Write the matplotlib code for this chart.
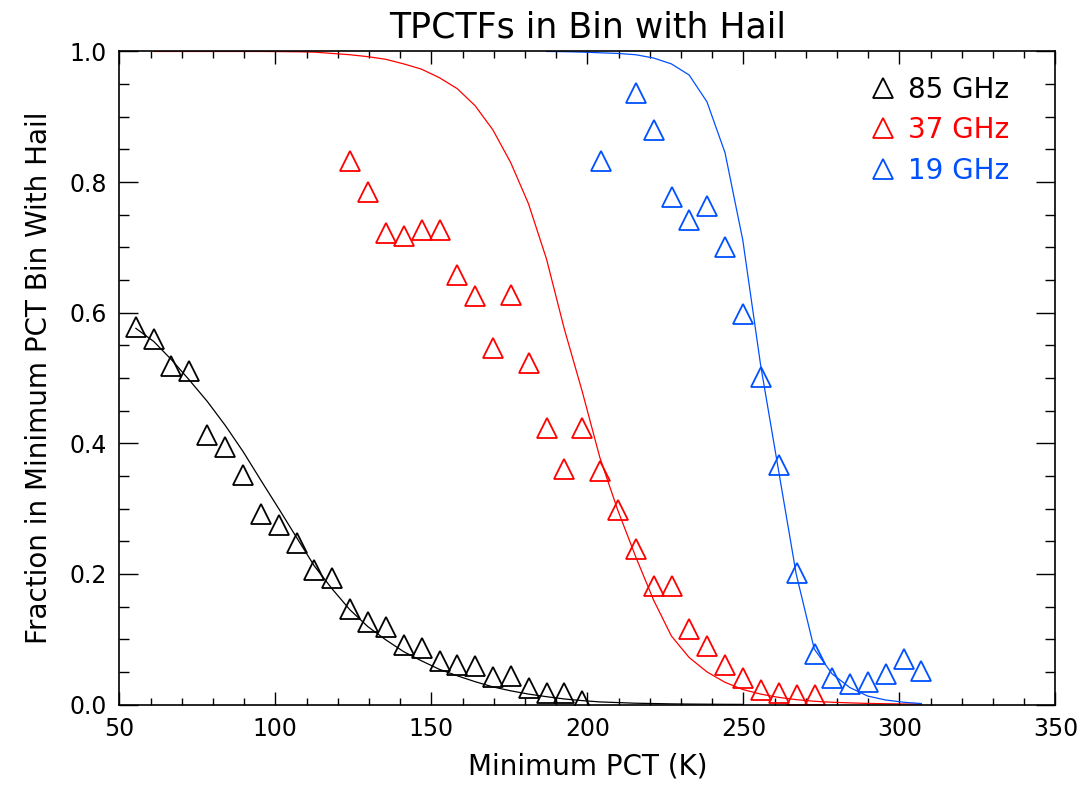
import matplotlib
matplotlib.use("Agg")
import matplotlib.pyplot as plt
from matplotlib.ticker import MultipleLocator

plt.rcParams['font.family'] = ['DejaVu Sans']

# bin centres (minimum PCT, K)
pct_bins = [55.3, 61.0, 66.7, 72.4, 78.2, 84.0, 89.7, 95.4, 101.2, 106.9,
            112.5, 118.2, 123.9, 129.7, 135.4, 141.1, 146.8, 152.5, 158.3, 164.0,
            169.7, 175.4, 181.1, 186.9, 192.6, 198.3, 204.0, 209.7, 215.5, 221.2,
            226.9, 232.6, 238.3, 244.1, 249.8, 255.5, 261.2, 266.9, 272.7, 278.4,
            284.1, 289.8, 295.5, 301.3, 307.0]

# observed fractions
x85 = [55.3, 61.0, 66.7, 72.4, 78.2, 84.0, 89.7, 95.4, 101.2, 106.9, 112.5, 118.3, 124.0,
       129.8, 135.5, 141.3, 147.0, 152.7, 158.3, 164.1, 169.9, 175.5, 181.2, 187.0, 192.6, 198.4]
y85 = [0.578, 0.560, 0.518, 0.511, 0.412, 0.394, 0.351, 0.291, 0.275, 0.247, 0.206, 0.194, 0.147,
       0.126, 0.119, 0.091, 0.086, 0.066, 0.060, 0.059, 0.042, 0.043, 0.025, 0.018, 0.017, 0.005]

x37 = [124.0, 129.8, 135.5, 141.2, 146.9, 152.7, 158.3, 164.1, 169.8, 175.5, 181.2, 187.0, 192.6,
       198.3, 204.1, 209.8, 215.5, 221.3, 227.0, 232.7, 238.4, 244.1, 249.9, 255.6, 261.3, 267.1, 272.8]
y37 = [0.833, 0.785, 0.722, 0.718, 0.727, 0.727, 0.657, 0.625, 0.546, 0.627, 0.523, 0.424, 0.360,
       0.424, 0.358, 0.298, 0.238, 0.181, 0.181, 0.116, 0.089, 0.060, 0.040, 0.022, 0.017, 0.014, 0.014]

x19 = [204.2, 215.6, 221.3, 227.0, 232.7, 238.4, 244.1, 249.9, 255.7, 261.3, 267.1, 272.9,
       278.5, 284.2, 290.0, 295.6, 301.4, 307.0]
y19 = [0.833, 0.937, 0.879, 0.777, 0.742, 0.764, 0.701, 0.598, 0.502, 0.367, 0.201, 0.078,
       0.041, 0.032, 0.035, 0.046, 0.069, 0.051]

# fitted curves, sampled at the bin centres
fit85 = [0.576, 0.556, 0.528, 0.497, 0.464, 0.427, 0.387, 0.343, 0.299, 0.255,
         0.212, 0.177, 0.145, 0.119, 0.099, 0.081, 0.067, 0.054, 0.044, 0.035,
         0.027, 0.021, 0.016, 0.012, 0.0085, 0.006, 0.004, 0.003, 0.002, 0.0015,
         0.001, 0.0007, 0.0005, 0.0003, 0.0002]
fit37 = [1.0, 1.0, 1.0, 1.0, 1.0, 1.0, 1.0, 0.9998, 0.9995,
         0.999, 0.997, 0.995, 0.992, 0.988, 0.981, 0.973, 0.960, 0.943, 0.917,
         0.880, 0.830, 0.767, 0.682, 0.575, 0.480, 0.378, 0.298, 0.226, 0.160,
         0.105, 0.072, 0.050, 0.034, 0.023, 0.016, 0.011, 0.0075, 0.005, 0.0035,
         0.0025, 0.0017, 0.0012, 0.0008, 0.0006]
fit19 = [1.0, 0.9997, 0.999, 0.998, 0.997, 0.995, 0.990, 0.981, 0.964, 0.923,
         0.845, 0.711, 0.52, 0.36, 0.20, 0.085, 0.047, 0.026, 0.013, 0.007,
         0.0035, 0.0015]

blue = '#0050ff'

fig = plt.figure(figsize=(10.88, 7.87), dpi=100)
ax = fig.add_axes([0.1097, 0.1048, 0.8604, 0.8298])

ax.plot(pct_bins[:len(fit85)], fit85, color='black', lw=0.9)
ax.plot(pct_bins[1:1 + len(fit37)], fit37, color='red', lw=0.9)
ax.plot(pct_bins[23:23 + len(fit19)], fit19, color=blue, lw=0.9)

mk = dict(marker='^', ls='none', ms=15, mew=1.3, mfc='none')
ax.plot(x85, y85, color='black', label='85 GHz', **mk)
ax.plot(x37, y37, color='red', label='37 GHz', **mk)
ax.plot(x19, y19, color=blue, label='19 GHz', **mk)

ax.set_xlim(50, 350)
ax.set_ylim(0, 1)
ax.xaxis.set_major_locator(MultipleLocator(50))
ax.xaxis.set_minor_locator(MultipleLocator(10))
ax.yaxis.set_major_locator(MultipleLocator(0.2))
ax.yaxis.set_minor_locator(MultipleLocator(0.05))
ax.yaxis.set_major_formatter(plt.FuncFormatter(lambda v, p: f'{v:.1f}'))

ax.tick_params(which='both', direction='in', top=True, right=True, width=1, labelsize=17)
ax.tick_params(axis='x', which='major', length=9.5, pad=9)
ax.tick_params(axis='x', which='minor', length=5)
ax.tick_params(axis='y', which='major', length=13.5, pad=9)
ax.tick_params(axis='y', which='minor', length=7)
for s in ax.spines.values():
    s.set_linewidth(1.2)

ax.set_xlabel('Minimum PCT (K)', fontsize=20, labelpad=8)
ax.set_ylabel('Fraction in Minimum PCT Bin With Hail', fontsize=20, labelpad=12)
ax.set_title('TPCTFs in Bin with Hail', fontsize=25, pad=10)

ax.legend(loc='upper right', bbox_to_anchor=(0.962, 0.98), borderaxespad=0,
          frameon=False, handlelength=0.9, handletextpad=0.45, labelspacing=0.45,
          labelcolor='linecolor', fontsize=20, markerscale=1.0)

fig.savefig('out.png', dpi=100)
